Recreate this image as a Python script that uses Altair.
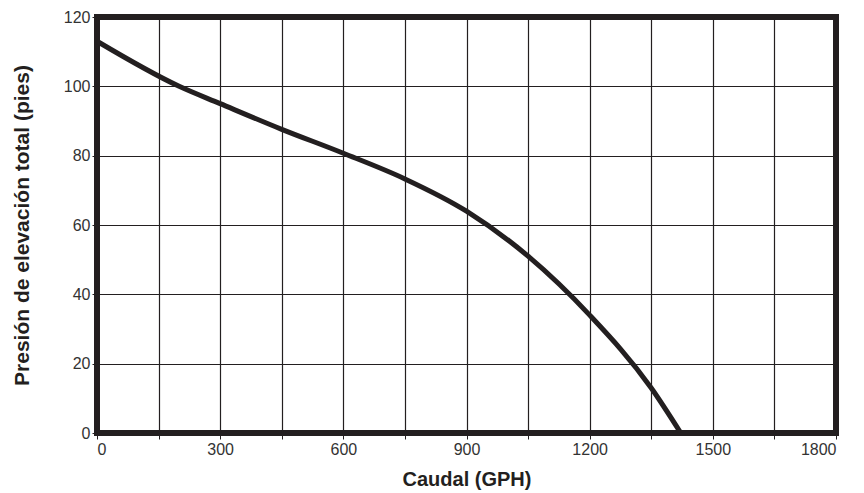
import altair as alt
import pandas as pd

flow = [0, 200, 300, 450, 600, 750, 900, 1050, 1200, 1350, 1422]
head = [113, 100, 95, 87.6, 80.7, 73.3, 64, 51, 34, 13, 0]

df = pd.DataFrame({"flow": flow, "head": head})

ink = "#231f20"

chart = alt.Chart(df).mark_line(color=ink, strokeWidth=5, strokeJoin="round",
                                interpolate="monotone", clip=True).encode(
    x=alt.X("flow:Q", scale=alt.Scale(domain=[0, 1800], nice=False, zero=True),
            axis=alt.Axis(title="Caudal (GPH)", values=list(range(0, 1801, 150)),
                          labelExpr="datum.value % 300 == 0 ? datum.label : ''",
                          format="d", grid=True, gridColor=ink, gridWidth=1.2, gridOpacity=1,
                          domain=False, tickColor=ink, tickSize=6, tickWidth=1,
                          labelFont="Liberation Sans", labelFontSize=16, labelColor="#333",
                          labelPadding=2,
                          titleFont="Liberation Sans", titleFontSize=20, titleFontWeight="bold",
                          titleColor=ink, titlePadding=12)),
    y=alt.Y("head:Q", scale=alt.Scale(domain=[0, 120], nice=False),
            axis=alt.Axis(title="Presión de elevación total (pies)", values=list(range(0, 121, 20)),
                          grid=True, gridColor=ink, gridWidth=1.2, gridOpacity=1,
                          domain=False, tickColor=ink, tickSize=5, tickWidth=1,
                          labelFont="Liberation Sans", labelFontSize=16, labelColor="#333",
                          labelPadding=2,
                          titleFont="Liberation Sans", titleFontSize=21, titleFontWeight="bold",
                          titleColor=ink, titlePadding=31)),
).properties(
    width=739, height=416,
    autosize=alt.AutoSizeParams(type="none"),
    padding={"left": 89, "top": 9, "right": 20, "bottom": 60},
).configure_view(stroke=ink, strokeWidth=6)

chart.save("out.html", embed_options={"renderer": "svg", "actions": False})
